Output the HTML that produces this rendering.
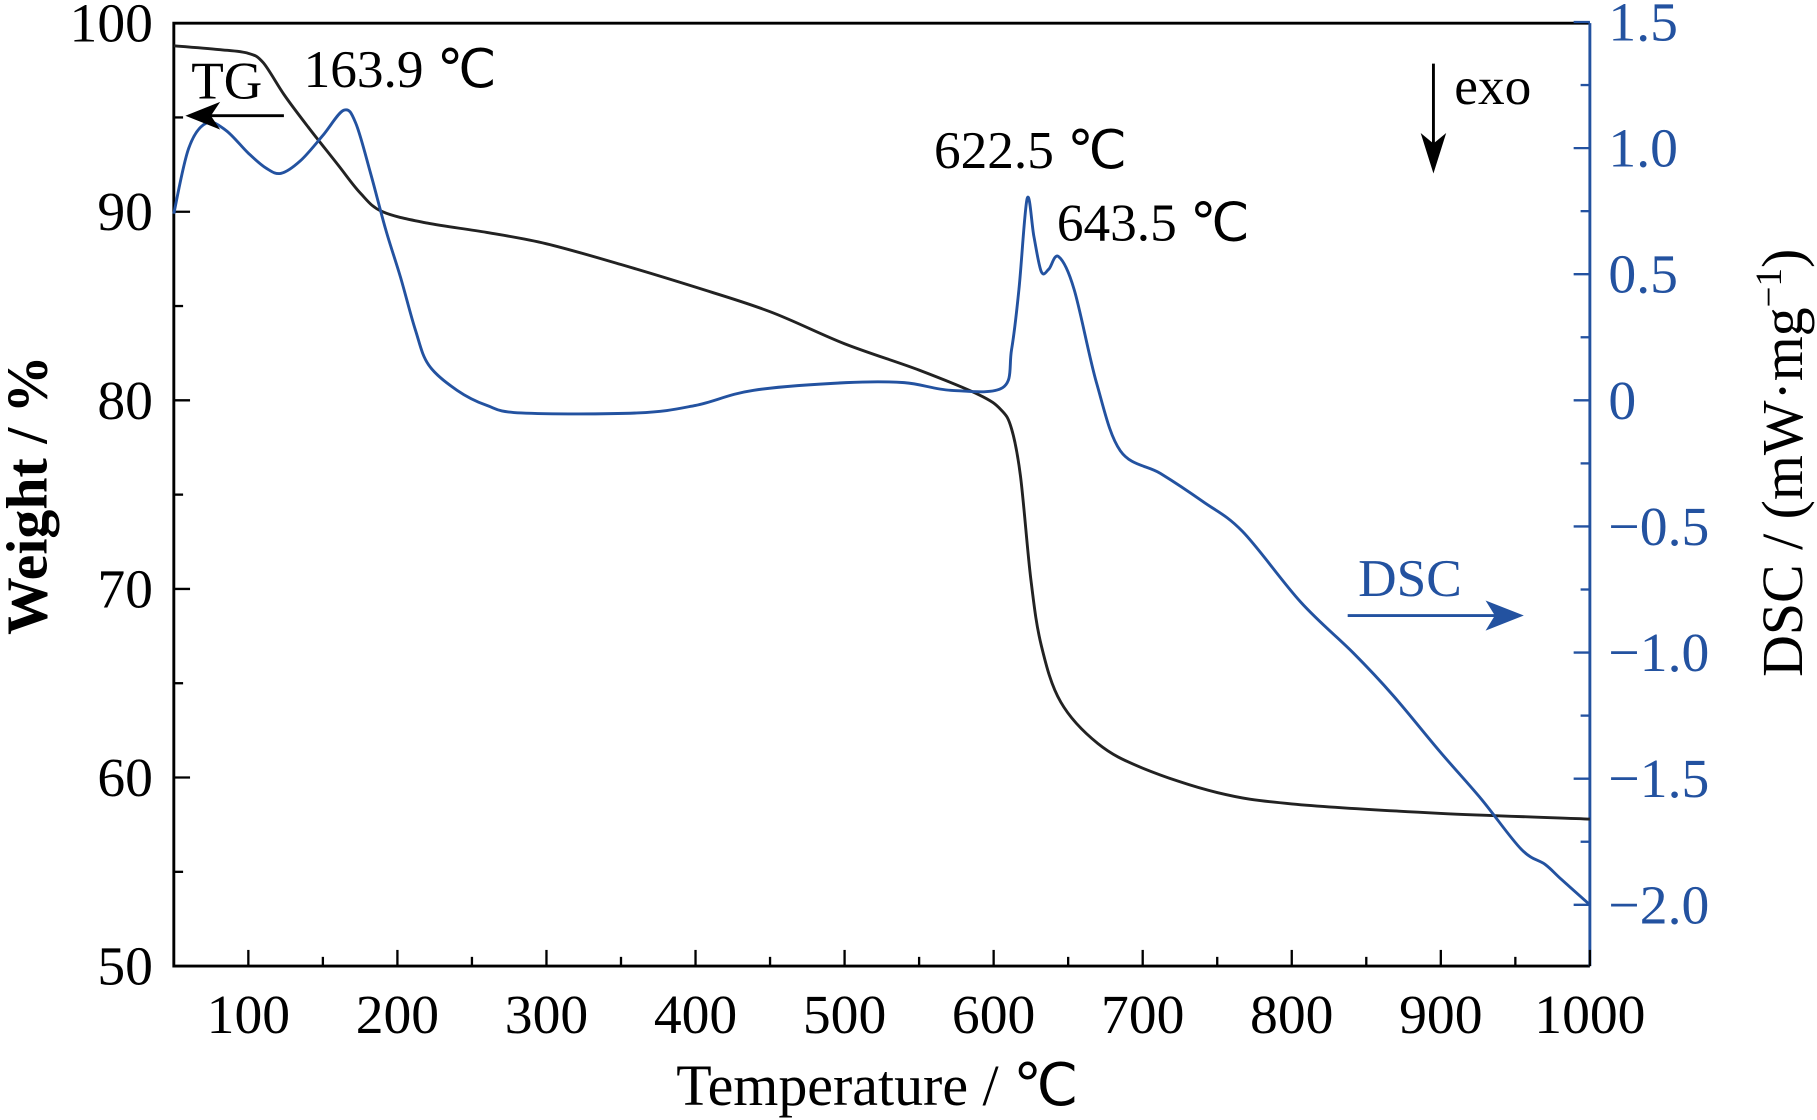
<!DOCTYPE html>
<html><head><meta charset="utf-8"><style>
html,body{margin:0;padding:0;background:#fff;}
svg{display:block;font-family:"Liberation Serif",serif;}
</style></head><body>
<svg id="chart" width="1817" height="1120" viewBox="0 0 1568 968" preserveAspectRatio="none" xmlns="http://www.w3.org/2000/svg">
<g id="axes"></g>
<g id="series"></g>
<g font-size="46">
<text x="165" y="85">TG</text>
<line x1="245" y1="100" x2="175" y2="100" stroke="#000" stroke-width="2.5"/>
<polygon points="160,100 190,88 182,100 190,112" fill="#000"/>
<text x="262" y="75">163.9 ℃</text>
<text x="1255" y="90">exo</text>
<line x1="1237" y1="55" x2="1237" y2="130" stroke="#000" stroke-width="2.5"/>
<polygon points="1237,150 1226,115 1237,124 1248,115" fill="#000"/>
<text x="806" y="145">622.5 ℃</text>
<text x="912" y="208">643.5 ℃</text>
<text x="1172" y="515" fill="#2352a0">DSC</text>
<line x1="1163" y1="532" x2="1295" y2="532" stroke="#2352a0" stroke-width="2.5"/>
<polygon points="1315,532 1282,519 1290,532 1282,545" fill="#2352a0"/>
</g>
</svg>
<script>
const tgTemps=[50,80,100,110,124,140,160,175,190,220,260,300,350,400,450,500,550,590,605,612,618,625,632,645,670,700,750,800,900,1000];
const tgWeights=[98.8,98.6,98.4,97.9,96.2,94.5,92.5,91,90,89.4,88.9,88.3,87.2,86,84.7,83,81.6,80.3,79.5,78.5,76,70.5,67,64,61.8,60.5,59.2,58.6,58.1,57.8];
const dscTemps=[50,60,72,85,100,112,122,135,150,164,172,182,192,202,212,221,240,260,283,361,400,439,501,540,571,606,612,617,622.5,627,632,637,643.5,654,669,685,712,740,767,806,841,868,899,927,954,970,981,1000];
const dscValues=[0.74,1.0,1.1,1.07,0.98,0.92,0.9,0.95,1.05,1.15,1.1,0.9,0.68,0.49,0.28,0.14,0.04,-0.02,-0.05,-0.05,-0.02,0.04,0.07,0.07,0.04,0.05,0.2,0.44,0.8,0.65,0.51,0.52,0.57,0.44,0.07,-0.2,-0.29,-0.4,-0.52,-0.8,-1.0,-1.17,-1.39,-1.58,-1.78,-1.84,-1.9,-2.0];
const xTicks=[100,200,300,400,500,600,700,800,900,1000];
const yLeftTicks=[50,60,70,80,90,100];
const yRightTicks=[-2.0,-1.5,-1.0,-0.5,0,0.5,1.0,1.5];
const yRightLabels=["\u22122.0","\u22121.5","\u22121.0","\u22120.5","0","0.5","1.0","1.5"];

const L=150,R=1372,T=20,B=835;
const xS=v=>L+(v-50)/(1000-50)*(R-L);
const yL=v=>B-(v-50)/50*(B-T);
const yR=v=>346-v*218;
const NS="http://www.w3.org/2000/svg";
const axes=document.getElementById('axes'),series=document.getElementById('series');
function mk(tag,attrs,parent,txt){const e=document.createElementNS(NS,tag);for(const k in attrs)e.setAttribute(k,attrs[k]);if(txt!==undefined)e.textContent=txt;parent.appendChild(e);return e;}
let f=mk('path',{d:`M${R},${B}L${L},${B}L${L},${T}L${R},${T}`,fill:'none',stroke:'#000','stroke-width':2.5},axes);


let ra=mk('line',{x1:R,y1:T,x2:R,y2:B,stroke:'#2352a0','stroke-width':2.5},axes);


for(let v=50;v<=1000;v+=50){const x=xS(v);const len=v%100===0?14:8;
 let t=mk('line',{x1:x,y1:B,x2:x,y2:B-len,stroke:'#000','stroke-width':2},axes);
 
 }
xTicks.forEach(v=>{let t=mk('text',{x:xS(v),y:893,'text-anchor':'middle','font-size':48},axes,String(v));
 
 });
for(let v=50;v<=100;v+=5){const y=yL(v);const len=v%10===0?14:8;
 let t=mk('line',{x1:L,y1:y,x2:L+len,y2:y,stroke:'#000','stroke-width':2},axes);
 
 }
yLeftTicks.forEach(v=>{let t=mk('text',{x:132,y:yL(v)+16,'text-anchor':'end','font-size':48},axes,String(v));
 
 });
for(let i=-8;i<=6;i++){const v=i*0.25;const y=yR(v);if(y>B||y<T-2)continue;const len=i%2===0?14:8;
 let t=mk('line',{x1:R,y1:y,x2:R-len,y2:y,stroke:'#2352a0','stroke-width':2},axes);
 
 }
yRightTicks.forEach((v,i)=>{let t=mk('text',{x:1388,y:yR(v)+16,'font-size':48,fill:'#2352a0'},axes,yRightLabels[i]);
 
 });
let xt=mk('text',{x:757,y:955,'text-anchor':'middle','font-size':50},axes,'Temperature / ℃');


let ylt=mk('text',{x:0,y:0,'text-anchor':'middle','font-size':50,'font-weight':'bold',transform:'translate(40,428) rotate(-90)'},axes,'Weight / %');


let yrt=mk('text',{x:0,y:0,'text-anchor':'middle','font-size':50,transform:'translate(1555,400) rotate(-90)'},axes);


mk('tspan',{},yrt,'DSC / (mW·mg');mk('tspan',{dy:-18,'font-size':32},yrt,'−1');mk('tspan',{dy:18},yrt,')');
function pathOf(xs,ys,yf){
 const p=xs.map((v,i)=>[xS(v),yf(ys[i])]);
 let d='M'+p[0][0].toFixed(1)+','+p[0][1].toFixed(1);
 for(let i=0;i<p.length-1;i++){
  const p0=p[Math.max(0,i-1)],p1=p[i],p2=p[i+1],p3=p[Math.min(p.length-1,i+2)];
  const c1x=p1[0]+(p2[0]-p0[0])/6,c1y=p1[1]+(p2[1]-p0[1])/6;
  const c2x=p2[0]-(p3[0]-p1[0])/6,c2y=p2[1]-(p3[1]-p1[1])/6;
  d+=`C${c1x.toFixed(1)},${c1y.toFixed(1)} ${c2x.toFixed(1)},${c2y.toFixed(1)} ${p2[0].toFixed(1)},${p2[1].toFixed(1)}`;
 }
 return d;}
let tg=mk('path',{d:pathOf(tgTemps,tgWeights,yL),fill:'none',stroke:'#222','stroke-width':2.5,'stroke-linejoin':'round'},series);


let dsc=mk('path',{d:pathOf(dscTemps,dscValues,yR),fill:'none',stroke:'#2352a0','stroke-width':2.5,'stroke-linejoin':'round'},series);


</script>
</body></html>
